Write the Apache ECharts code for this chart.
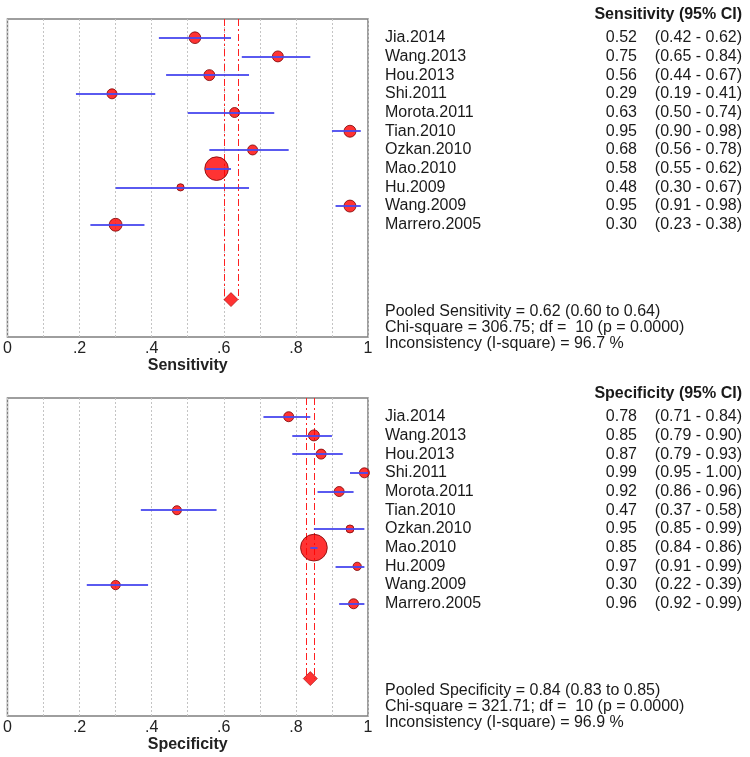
<!DOCTYPE html>
<html>
<head>
<meta charset="utf-8">
<script src="https://cdn.jsdelivr.net/npm/echarts@6/dist/echarts.min.js"></script>
<style>html,body{margin:0;padding:0;background:#fff}#c{width:750px;height:757px}</style>
</head>
<body>
<div id="c"></div>
<script>
// ---- data ----
const studies = ['Jia.2014','Wang.2013','Hou.2013','Shi.2011','Morota.2011','Tian.2010','Ozkan.2010','Mao.2010','Hu.2009','Wang.2009','Marrero.2005'];
const sens   = [0.52,0.75,0.56,0.29,0.63,0.95,0.68,0.58,0.48,0.95,0.30];
const sensLo = [0.42,0.65,0.44,0.19,0.50,0.90,0.56,0.55,0.30,0.91,0.23];
const sensHi = [0.62,0.84,0.67,0.41,0.74,0.98,0.78,0.62,0.67,0.98,0.38];
const sensWeight = [8.3,7.3,7.3,6.1,6.1,8.7,6.1,34.0,3.2,8.7,10.2];
const spec   = [0.78,0.85,0.87,0.99,0.92,0.47,0.95,0.85,0.97,0.30,0.96];
const specLo = [0.71,0.79,0.79,0.95,0.86,0.37,0.85,0.84,0.91,0.22,0.92];
const specHi = [0.84,0.90,0.93,1.00,0.96,0.58,0.99,0.86,0.99,0.39,0.99];
const specWeight = [6.1,7.4,6.1,6.1,6.1,5.0,3.9,43.6,4.2,5.3,6.1];
const sensPooled = {est:0.62, lo:0.60, hi:0.64, chi:'306.75', df:10, p:'0.0000', i2:'96.7'};
const specPooled = {est:0.84, lo:0.83, hi:0.85, chi:'321.71', df:10, p:'0.0000', i2:'96.9'};
const xTicks = ['0','.2','.4','.6','.8','1'];

// ---- layout ----
const FONT = '"Liberation Sans", Arial, sans-serif';
const gridLeft = 6, gridW = 362, gridH = 318;
const tops = [19, 398];
const yMin = -1, yMax = 16, pooledRow = 14;
const rowH = gridH / (yMax - yMin);

function panel(idx, name, est, lo, hi, wt, pooled) {
  const series = [];
  // dash-dot pooled CI lines
  series.push({
    type: 'lines', coordinateSystem: 'cartesian2d', xAxisIndex: idx, yAxisIndex: idx, z: 2,
    lineStyle: {color: '#ff2020', width: 1, type: [7,3,2,3], opacity: 1},
    silent: true,
    data: [{coords: [[pooled.lo, yMin], [pooled.lo, pooledRow]]}, {coords: [[pooled.hi, yMin], [pooled.hi, pooledRow]]}]
  });
  series.push({
    type: 'scatter', xAxisIndex: idx, yAxisIndex: idx, z: 3, clip: false,
    symbol: 'circle',
    symbolSize: (v, p) => 4.05 * Math.sqrt(wt[p.dataIndex]),
    itemStyle: {color: '#ff0000', borderColor: '#7a0000', borderWidth: 1},
    data: est.map((v, i) => [v, i])
  });
  series.push({
    type: 'lines', coordinateSystem: 'cartesian2d', xAxisIndex: idx, yAxisIndex: idx, z: 4,
    lineStyle: {color: '#4848ee', width: 2, opacity: 0.9},
    silent: true,
    data: est.map((v, i) => ({coords: [[lo[i], i], [hi[i], i]]}))
  });
  series.push({
    type: 'scatter', xAxisIndex: idx, yAxisIndex: idx, z: 5,
    symbol: 'diamond', symbolSize: [14, 14],
    itemStyle: {color: '#ff0000', borderColor: '#aa0000', borderWidth: 0.8},
    data: [[pooled.est, pooledRow]]
  });
  return series;
}

const grids = tops.map(t => ({left: gridLeft, top: t, width: gridW, height: gridH, show: true, borderColor: '#7f7f7f', borderWidth: 1.5, backgroundColor: '#fff'}));
const names = ['Sensitivity', 'Specificity'];
const xAxes = [0,1].map(i => ({
  type: 'value', gridIndex: i, min: 0, max: 1, interval: 0.1,
  name: names[i], nameLocation: 'middle', nameGap: 20,
  nameTextStyle: {fontFamily: FONT, fontSize: 16, fontWeight: 'bold', color: '#222'},
  axisLine: {show: false}, axisTick: {show: false},
  axisLabel: {margin: 4, fontFamily: FONT, fontSize: 16, color: '#222',
    formatter: v => { const k = Math.round(v * 10); return k % 2 === 0 ? xTicks[k / 2] : ''; }},
  splitLine: {show: true, lineStyle: {color: '#c4c4c4', width: 1, type: [2, 2]}}
}));
const yAxes = [0,1].map(i => ({type: 'value', gridIndex: i, inverse: true, min: yMin, max: yMax, show: false}));

// right-hand text
const graphic = [];
const panels = [
  {title: 'Sensitivity (95% CI)', est: sens, lo: sensLo, hi: sensHi, pooled: sensPooled, label: 'Sensitivity'},
  {title: 'Specificity (95% CI)', est: spec, lo: specLo, hi: specHi, pooled: specPooled, label: 'Specificity'}
];
const txt = (x, y, s, opts) => Object.assign({type: 'text', x: x, y: y, silent: true,
  style: Object.assign({text: s, fontFamily: FONT, fontSize: 16, fill: '#1a1a1a', verticalAlign: 'middle', align: 'left'}, opts || {})});
panels.forEach((p, k) => {
  const T = tops[k];
  const rowY = i => T + (i - yMin) * rowH;
  graphic.push(txt(742, rowY(0) - 23, p.title, {align: 'right', fontWeight: 'bold'}));
  studies.forEach((s, i) => {
    graphic.push(txt(385, rowY(i), s));
    graphic.push(txt(637, rowY(i), p.est[i].toFixed(2), {align: 'right'}));
    graphic.push(txt(742, rowY(i), '(' + p.lo[i].toFixed(2) + ' - ' + p.hi[i].toFixed(2) + ')', {align: 'right'}));
  });
  const py = T + 292.7;
  graphic.push(txt(385, py, 'Pooled ' + p.label + ' = ' + p.pooled.est.toFixed(2) + ' (' + p.pooled.lo.toFixed(2) + ' to ' + p.pooled.hi.toFixed(2) + ')'));
  graphic.push(txt(385, py + 16, 'Chi-square = ' + p.pooled.chi + '; df =  ' + p.pooled.df + ' (p = ' + p.pooled.p + ')'));
  graphic.push(txt(385, py + 32, 'Inconsistency (I-square) = ' + p.pooled.i2 + ' %'));
});

const chart = echarts.init(document.getElementById('c'), null, {renderer: 'canvas'});
chart.setOption({
  animation: false,
  backgroundColor: '#fff',
  grid: grids,
  xAxis: xAxes,
  yAxis: yAxes,
  graphic: graphic,
  series: [].concat(panel(0, 'sens', sens, sensLo, sensHi, sensWeight, sensPooled), panel(1, 'spec', spec, specLo, specHi, specWeight, specPooled))
});
</script>
</body>
</html>
